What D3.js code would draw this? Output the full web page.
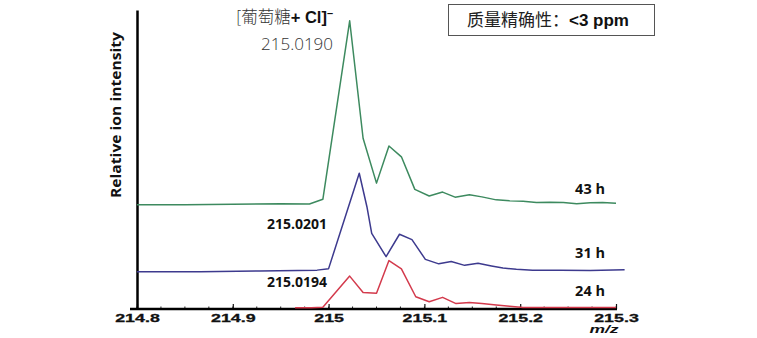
<!DOCTYPE html>
<html><head><meta charset="utf-8">
<script src="https://cdn.jsdelivr.net/npm/d3@7"></script>
<style>
html,body{margin:0;padding:0;background:#fff;}
svg{display:block;}
</style></head>
<body>
<svg id="chart" width="757" height="338"></svg>
<script>
// ---- data ----
const xTicks = [214.8, 214.9, 215.0, 215.1, 215.2, 215.3];
const xTickLabels = ["214.8", "214.9", "215", "215.1", "215.2", "215.3"];
const seriesNames = ["43 h", "31 h", "24 h"];
const peakLabels = ["215.0190", "215.0201", "215.0194"];

const mz43 = [214.8, 214.85, 214.9, 214.95, 214.98, 214.994, 215.022, 215.036, 215.05, 215.063, 215.076, 215.09, 215.105, 215.119, 215.132, 215.147, 215.16, 215.175, 215.189, 215.203, 215.217, 215.231, 215.245, 215.259, 215.273, 215.286, 215.3];
const int43 = [34.9, 34.9, 35.0, 35.2, 35.1, 36.7, 96.4, 57.1, 42.1, 54.5, 50.9, 40.0, 37.8, 39.1, 37.4, 38.2, 37.5, 36.5, 36.2, 36.0, 35.6, 35.7, 35.6, 35.2, 35.5, 35.6, 35.4];

const mz31 = [214.8, 214.866, 214.928, 214.988, 215.0, 215.032, 215.040, 215.045, 215.06, 215.074, 215.087, 215.101, 215.115, 215.128, 215.142, 215.156, 215.17, 215.182, 215.196, 215.213, 215.242, 215.273, 215.309];
const int31 = [12.5, 12.5, 12.7, 13.0, 13.5, 45.4, 34.2, 25.3, 17.5, 25.0, 23.2, 16.6, 15.1, 15.9, 14.6, 15.3, 14.4, 13.7, 13.3, 13.0, 13.0, 12.9, 13.1];

const mz24 = [214.965, 214.982, 214.994, 215.022, 215.036, 215.05, 215.063, 215.076, 215.091, 215.105, 215.119, 215.133, 215.147, 215.16, 215.175, 215.189, 215.203, 215.242, 215.3];
const int24 = [0.4, 0.4, 0.6, 11.0, 5.5, 5.3, 16.2, 13.4, 4.1, 2.4, 3.9, 1.8, 2.2, 1.8, 1.3, 0.9, 0.5, 0.5, 0.5];

const colors = ["#3d8a5f", "#3d3a8e", "#d33a4c"];

// ---- layout ----
const svg = d3.select("#chart");
const x = d3.scaleLinear().domain([214.8, 215.3]).range([137, 616]);
const y = d3.scaleLinear().domain([0, 100]).range([309, 10]);

// x axis: minor ticks
const minor = d3.range(214.8, 215.3001, 0.025);
svg.append("g").selectAll("line").data(minor).join("line")
  .attr("x1", d => x(d)).attr("x2", d => x(d))
  .attr("y1", 309).attr("y2", 306.5)
  .attr("stroke", "#222").attr("stroke-width", 1);

const xAxis = d3.axisBottom(x).tickValues(xTicks)
  .tickFormat((d, i) => xTickLabels[i]).tickSize(0).tickPadding(0);
const gx = svg.append("g").attr("transform", "translate(0,309)").call(xAxis);
gx.select(".domain").remove();
gx.selectAll(".tick line").remove();
gx.selectAll(".tick").append("line")
  .attr("y1", 0).attr("y2", -5).attr("stroke", "#111").attr("stroke-width", 1.2);
gx.selectAll(".tick text")
  .attr("y", 13.3).attr("dy", 0)
  .attr("fill", "#111")
  .attr("font-family", "'Liberation Sans', Arial, sans-serif")
  .attr("font-weight", "bold")
  .attr("font-size", 11.5)
  .attr("stroke", "#111").attr("stroke-width", 0.3)
  .attr("transform", "scale(1.55,1)");

svg.append("line").attr("x1", 130).attr("x2", 617).attr("y1", 309).attr("y2", 309)
  .attr("stroke", "#000").attr("stroke-width", 2.5);

// y axis
const yAxis = d3.axisLeft(y).tickValues([]).tickSizeOuter(0);
const gy = svg.append("g").attr("transform", "translate(137,0)").call(yAxis);
gy.select(".domain").attr("stroke", "#000").attr("stroke-width", 2.5);

svg.append("text")
  .attr("transform", "translate(121,115) rotate(-90)")
  .attr("text-anchor", "middle")
  .attr("font-family", "'Open Sans', sans-serif")
  .attr("font-weight", "bold")
  .attr("font-size", 14.5)
  .attr("textLength", 166).attr("lengthAdjust", "spacingAndGlyphs")
  .attr("fill", "#111")
  .text("Relative ion intensity");

// lines (drawn over the axes)
const series = [
  {mz: mz43, v: int43, color: colors[0]},
  {mz: mz31, v: int31, color: colors[1]},
  {mz: mz24, v: int24, color: colors[2]}
];
const line = d3.line().x(d => x(d[0])).y(d => y(d[1]));
series.forEach(s => {
  svg.append("path")
    .datum(s.mz.map((m, i) => [m, s.v[i]]))
    .attr("d", line)
    .attr("fill", "none")
    .attr("stroke", s.color)
    .attr("stroke-width", 1.5)
    .attr("stroke-linejoin", "round");
});

// m/z label
svg.append("text")
  .attr("x", 604).attr("y", 333.5)
  .attr("text-anchor", "middle")
  .attr("font-family", "'Liberation Sans', Arial, sans-serif")
  .attr("font-style", "italic").attr("font-weight", "bold")
  .attr("font-size", 10)
  .attr("transform", "translate(604,0) scale(1.75,1) translate(-604,0)")
  .attr("fill", "#111")
  .text("m/z");

// series labels
const lblFont = "'Open Sans', sans-serif";
const nameY = [194, 258, 296];
seriesNames.forEach((n, i) => {
  svg.append("text")
    .attr("x", 605).attr("y", nameY[i])
    .attr("text-anchor", "end")
    .attr("font-family", lblFont).attr("font-weight", "bold")
    .attr("font-size", 14.5).attr("fill", "#111")
    .text(n);
});

// peak m/z labels
[[peakLabels[1], 228.5], [peakLabels[2], 287]].forEach(([t, yy]) => {
  svg.append("text")
    .attr("x", 327).attr("y", yy)
    .attr("text-anchor", "end")
    .attr("font-family", lblFont).attr("font-weight", "bold")
    .attr("font-size", 14).attr("fill", "#111")
    .text(t);
});

// top annotation
const topLbl = svg.append("text")
  .attr("x", 333).attr("y", 23)
  .attr("text-anchor", "end")
  .attr("font-size", 16.5).attr("fill", "#333");
topLbl.append("tspan").attr("font-family", "'Noto Sans CJK SC', sans-serif").attr("font-weight", 300).text("[葡萄糖");
topLbl.append("tspan").attr("font-family", "'Liberation Sans', Arial, sans-serif").attr("font-weight", "bold").attr("fill", "#111").text("+ Cl]");
topLbl.append("tspan").attr("font-family", "'Liberation Sans', Arial, sans-serif").attr("font-weight", "bold").attr("fill", "#111").attr("dy", -6).attr("font-size", 11).text("–");

svg.append("text")
  .attr("x", 333).attr("y", 50)
  .attr("text-anchor", "end")
  .attr("font-family", lblFont).attr("font-weight", 300)
  .attr("font-size", 17).attr("fill", "#333")
  .text(peakLabels[0]);

// accuracy box
svg.append("rect").attr("x", 448.5).attr("y", 4.5).attr("width", 206).attr("height", 31)
  .attr("fill", "#fff").attr("stroke", "#555").attr("stroke-width", 1);
const bt = svg.append("text").attr("x", 467).attr("y", 26).attr("font-size", 17).attr("fill", "#222");
bt.append("tspan").attr("font-family", "'Noto Sans CJK SC', sans-serif").text("质量精确性：");
bt.append("tspan").attr("font-family", "'Liberation Sans', Arial, sans-serif").attr("font-weight", "bold").attr("fill", "#111").text("<3 ppm");
</script>
</body></html>
